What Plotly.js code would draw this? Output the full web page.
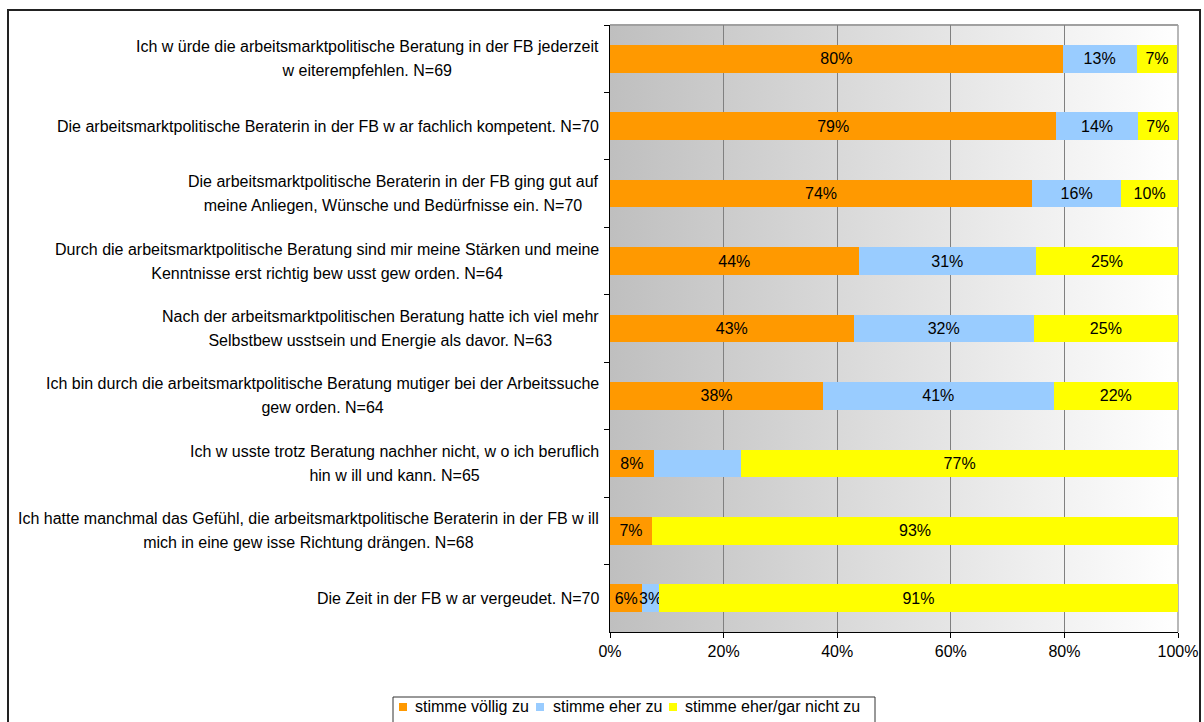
<!DOCTYPE html>
<html>
<head>
<meta charset="utf-8">
<script src="https://cdn.plot.ly/plotly-3.0.1.min.js"></script>
<style>html,body{margin:0;padding:0;background:#fff;}#chart{width:1204px;height:722px;}</style>
</head>
<body>
<div id="chart"></div>
<script>
// ---- data ----
const categories = [
  "Ich w ürde die arbeitsmarktpolitische Beratung in der FB jederzeit<br>w eiterempfehlen. N=69",
  "Die arbeitsmarktpolitische Beraterin in der FB w ar fachlich kompetent. N=70",
  "Die arbeitsmarktpolitische Beraterin in der FB ging gut auf<br>meine Anliegen, Wünsche und Bedürfnisse ein. N=70",
  "Durch die arbeitsmarktpolitische Beratung sind mir meine Stärken und meine<br>Kenntnisse erst richtig bew usst gew orden. N=64",
  "Nach der arbeitsmarktpolitischen Beratung hatte ich viel mehr<br>Selbstbew usstsein und Energie als davor. N=63",
  "Ich bin durch die arbeitsmarktpolitische Beratung mutiger bei der Arbeitssuche<br>gew orden. N=64",
  "Ich w usste trotz Beratung nachher nicht, w o ich beruflich<br>hin w ill und kann. N=65",
  "Ich hatte manchmal das Gefühl, die arbeitsmarktpolitische Beraterin in der FB w ill<br>mich in eine gew isse Richtung drängen. N=68",
  "Die Zeit in der FB w ar vergeudet. N=70"
];
const seriesNames = ["stimme völlig zu", "stimme eher zu", "stimme eher/gar nicht zu"];
const voellig = [79.7, 78.6, 74.3, 43.75, 42.9, 37.5, 7.7, 7.4, 5.7];
const eher    = [13.0, 14.3, 15.7, 31.25, 31.7, 40.6, 15.4, 0, 2.9];
const nicht   = [7.2, 7.1, 10.0, 25.0, 25.4, 21.9, 76.9, 92.6, 91.4];
const eherLabelHidden = [false, false, false, false, false, false, true, true, false];
const xTicks = [0, 20, 40, 60, 80, 100];

const colors = ["#FF9900", "#99CCFF", "#FFFF00"];
const FONT = "Arial, 'Liberation Sans', sans-serif";
const FS = 16;

function barTrace(name, vals, color, hidden) {
  return {
    type: "bar", orientation: "h", name: name,
    x: vals, y: categories,
    marker: {color: color, line: {width: 0}},
    texttemplate: vals.map((v, i) => (hidden && hidden[i]) || v === 0 ? "" : "%{x:.0f}%"),
    textposition: "inside", insidetextanchor: "middle",
    constraintext: "none", textangle: 0, cliponaxis: false,
    textfont: {family: FONT, size: FS, color: "#000"},
    hoverinfo: "skip", showlegend: false
  };
}

const data = [
  barTrace(seriesNames[0], voellig, colors[0]),
  barTrace(seriesNames[1], eher, colors[1], eherLabelHidden),
  barTrace(seriesNames[2], nicht, colors[2])
];

const L = 610, R = 26, T = 25, B = 90, W = 1204, H = 722;
const pw = W - L - R, ph = H - T - B;
const px = v => (v - L) / pw;
const py = v => (H - B - v) / ph;

// category labels as centred multi-line annotations
const annotations = categories.map(c => {
  const multi = c.indexOf("<br>") >= 0;
  const txt = multi ? c.split("<br>").map(l => '<span style="font-size:' + FS + 'px">' + l + '</span>').join("<br>") : c;
  return {
    xref: "paper", yref: "y", x: 0, y: c, xanchor: "right", yanchor: "middle",
    xshift: -9, align: "center", showarrow: false, text: txt,
    font: {family: FONT, size: multi ? 18.5 : FS, color: "#000"}
  };
});

// legend (drawn as a boxed row of swatches and labels, like the reference)
const legendBox = {left: 393, right: 875, top: 697};
const legendSwatchX = [399, 536, 669];
const legendTextX = [413, 551, 683];
const legendY = 707;
const shapes = [
  {type: "line", xref: "paper", yref: "paper", x0: 0, x1: 1, y0: 1, y1: 1, line: {color: "#a0a0a0", width: 2}, layer: "below"},
  {type: "line", xref: "paper", yref: "paper", x0: 1, x1: 1, y0: 0, y1: 1, line: {color: "#a0a0a0", width: 1.5}, layer: "below"},
  {type: "rect", xref: "paper", yref: "paper", x0: px(8), x1: px(1200), y0: py(800), y1: py(10), line: {color: "#222", width: 2}, fillcolor: "rgba(0,0,0,0)"},
  {type: "rect", xref: "paper", yref: "paper", x0: px(legendBox.left), x1: px(legendBox.right), y0: py(760), y1: py(legendBox.top), line: {color: "#333", width: 1}, fillcolor: "#ffffff"}
];
seriesNames.forEach((n, i) => {
  shapes.push({type: "rect", xref: "paper", yref: "paper",
    x0: px(legendSwatchX[i]), x1: px(legendSwatchX[i] + 8), y0: py(legendY + 4), y1: py(legendY - 4),
    line: {width: 0}, fillcolor: colors[i]});
  annotations.push({xref: "paper", yref: "paper", x: px(legendTextX[i]), y: py(legendY),
    xanchor: "left", yanchor: "middle", showarrow: false, text: n,
    font: {family: FONT, size: FS, color: "#000"}});
});

const grad = "<svg xmlns='http://www.w3.org/2000/svg' width='100' height='100' preserveAspectRatio='none'>" +
  "<defs><linearGradient id='g' x1='0' x2='1' y1='0' y2='0'><stop offset='0' stop-color='#bfbfbf'/>" +
  "<stop offset='1' stop-color='#ffffff'/></linearGradient></defs>" +
  "<rect width='100' height='100' fill='url(#g)'/></svg>";

const layout = {
  width: W, height: H,
  margin: {l: L, r: R, t: T, b: B, pad: 0, autoexpand: false},
  paper_bgcolor: "#ffffff", plot_bgcolor: "rgba(0,0,0,0)",
  font: {family: FONT, size: FS, color: "#000"},
  barmode: "stack", bargap: 0.59,
  showlegend: false,
  xaxis: {
    range: [0, 100], tickvals: xTicks, ticktext: xTicks.map(v => v + "%"),
    showgrid: true, gridcolor: "#808080", gridwidth: 1,
    showline: true, linecolor: "#000", linewidth: 1,
    ticks: "outside", ticklen: 5, tickcolor: "#000", tickwidth: 1,
    tickfont: {family: FONT, size: FS, color: "#000"},
    zeroline: false, fixedrange: true
  },
  yaxis: {
    type: "category", autorange: "reversed",
    showticklabels: false, showgrid: false, zeroline: false,
    showline: true, linecolor: "#000", linewidth: 1,
    ticks: "outside", ticklen: 5, tickcolor: "#000", tickson: "boundaries",
    fixedrange: true
  },
  images: [{
    source: "data:image/svg+xml;charset=utf-8," + encodeURIComponent(grad),
    xref: "paper", yref: "paper", x: 0, y: 1, sizex: 1, sizey: 1,
    sizing: "stretch", xanchor: "left", yanchor: "top", layer: "below"
  }],
  shapes: shapes,
  annotations: annotations
};

Plotly.newPlot("chart", data, layout, {displayModeBar: false, staticPlot: true});
</script>
</body>
</html>
